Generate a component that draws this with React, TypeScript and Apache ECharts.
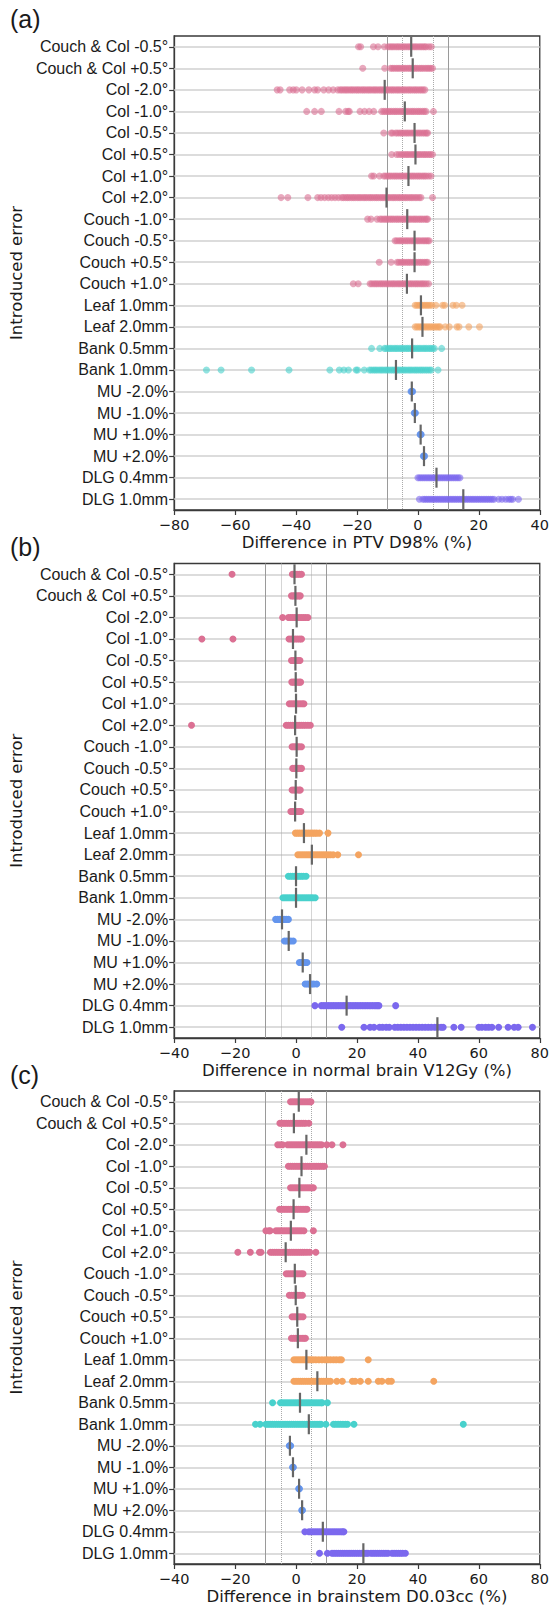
import React, { useEffect, useRef } from 'react';
import * as echarts from 'echarts';

const categories = [
  'Couch & Col -0.5°', 'Couch & Col +0.5°', 'Col -2.0°', 'Col -1.0°', 'Col -0.5°', 'Col +0.5°',
  'Col +1.0°', 'Col +2.0°', 'Couch -1.0°', 'Couch -0.5°', 'Couch +0.5°', 'Couch +1.0°',
  'Leaf 1.0mm', 'Leaf 2.0mm', 'Bank 0.5mm', 'Bank 1.0mm', 'MU -2.0%', 'MU -1.0%', 'MU +1.0%',
  'MU +2.0%', 'DLG 0.4mm', 'DLG 1.0mm',
];
const groupColors = ['#db7093', '#f4a460', '#48d1cc', '#6495ed', '#7b68ee'];
const categoryGroup = [0, 0, 0, 0, 0, 0, 0, 0, 0, 0, 0, 0, 1, 1, 2, 2, 3, 3, 3, 3, 4, 4];

const panelLetters = ['(a)', '(b)', '(c)'];
const xTitles = ['Difference in PTV D98% (%)', 'Difference in normal brain V12Gy (%)', 'Difference in brainstem D0.03cc (%)'];
const yTitle = 'Introduced error';
const xRanges = [[-80, 40], [-40, 80], [-40, 80]];
const xTickStep = 20;
const solidLimits = [-10, 10];
const dottedLimits = [-5, 5];

// Panel (a): PTV D98%
const ptvValues: number[][] = [
  [-19.5, -18.8, -14.6, -13.1, -11.0, -9.8, -9.1, -8.5, -7.9, -7.2, -6.6, -6.0, -5.3, -4.7, -4.1, -3.4, -2.8, -2.2, -1.5, -0.9, -0.3, 0.4, 1.0, 1.6, 2.2, 2.7, 3.6, 4.4],
  [-18.1, -10.9, -9.0, -8.4, -7.8, -7.1, -6.5, -5.9, -5.2, -4.6, -4.0, -3.3, -2.7, -2.1, -1.4, -0.8, -0.2, 0.5, 1.1, 1.7, 2.4, 3.0, 3.6, 4.2, 4.8],
  [-46.2, -45.2, -42.1, -40.9, -39.9, -38.0, -35.8, -33.9, -32.9, -30.9, -29.3, -27.8, -26.3, -25.5, -24.9, -24.2, -23.6, -23.0, -22.3, -21.7, -21.1, -20.4, -19.8, -19.2, -18.5, -17.9, -17.3, -16.6, -16.0, -15.4, -14.7, -14.1, -13.5, -12.8, -12.2, -11.6, -10.9, -10.3, -9.7, -9.0, -8.4, -7.8, -7.1, -6.5, -5.9, -5.2, -4.6, -4.0, -3.3, -2.7, -2.1, -1.4, -0.8, -0.2, 0.5, 1.1, 1.7, 2.3],
  [-36.5, -33.9, -31.7, -25.9, -23.7, -22.9, -22.5, -19.0, -17.5, -16.0, -14.5, -11.9, -11.2, -10.6, -9.9, -9.3, -8.7, -8.0, -7.4, -6.8, -6.1, -5.5, -4.9, -4.2, -3.6, -3.0, -2.3, -1.7, -1.1, -0.4, 0.2, 0.8, 1.5, 2.1, 2.7, 5.1],
  [-11.2, -8.8, -8.3, -7.3, -6.7, -6.0, -5.4, -4.8, -4.1, -3.5, -2.9, -2.2, -1.6, -1.0, -0.3, 0.3, 0.9, 1.6, 2.2, 2.8, 3.2],
  [-8.6, -7.0, -6.2, -5.4, -4.8, -4.1, -3.5, -2.9, -2.2, -1.6, -1.0, -0.3, 0.3, 0.9, 1.6, 2.2, 2.8, 3.5, 4.1, 4.8],
  [-15.2, -14.5, -12.6, -11.2, -10.6, -9.9, -9.3, -8.7, -8.0, -7.4, -6.8, -6.1, -5.5, -4.9, -4.2, -3.6, -3.0, -2.3, -1.7, -1.1, -0.4, 0.2, 0.8, 1.5, 2.1, 2.7, 3.5, 4.3],
  [-44.9, -42.7, -36.1, -32.9, -31.8, -30.6, -29.4, -28.3, -27.2, -26.1, -25.0, -24.4, -23.7, -23.1, -22.5, -21.8, -21.2, -20.6, -19.9, -19.3, -18.7, -18.0, -17.4, -16.8, -16.1, -15.5, -14.9, -14.2, -13.6, -13.0, -12.3, -11.7, -11.1, -10.4, -9.8, -9.2, -8.5, -7.9, -7.3, -6.6, -6.0, -5.4, -4.7, -4.1, -3.5, -2.8, -2.2, -1.6, -0.9, -0.3, 0.4, 1.0, 4.8],
  [-16.5, -15.4, -13.4, -12.4, -11.8, -11.1, -10.5, -9.9, -9.2, -8.6, -8.0, -7.3, -6.7, -6.1, -5.4, -4.8, -4.2, -3.5, -2.9, -2.3, -1.6, -1.0, -0.4, 0.3, 0.9, 1.5, 2.2, 2.8, 3.2],
  [-7.5, -6.9, -6.2, -5.6, -5.0, -4.3, -3.7, -3.1, -2.4, -1.8, -1.2, -0.5, 0.1, 0.7, 1.4, 2.0, 2.6, 3.2, 3.7],
  [-12.7, -8.8, -6.8, -6.2, -5.5, -4.9, -4.3, -3.6, -3.0, -2.4, -1.7, -1.1, -0.5, 0.2, 0.8, 1.4, 2.1, 2.7, 3.2],
  [-21.2, -19.6, -15.7, -15.1, -14.4, -13.8, -13.2, -12.5, -11.9, -11.3, -10.6, -10.0, -9.4, -8.7, -8.1, -7.5, -6.8, -6.2, -5.6, -4.9, -4.3, -3.7, -3.0, -2.4, -1.8, -1.1, -0.5, 0.1, 0.8, 1.4, 2.0, 2.7, 3.5],
  [-0.9, -0.3, 0.3, 0.9, 1.5, 2.1, 2.7, 3.3, 3.9, 4.6, 5.9, 8.1, 8.8, 11.5, 12.6, 14.5],
  [-0.9, -0.3, 0.3, 0.9, 1.5, 2.1, 2.7, 3.3, 3.9, 4.5, 5.1, 5.7, 6.3, 6.9, 7.3, 9.0, 10.3, 12.8, 13.5, 16.7, 20.2],
  [-15.2, -12.5, -11.0, -10.4, -9.7, -9.1, -8.5, -7.8, -7.2, -6.6, -5.9, -5.3, -4.7, -4.0, -3.4, -2.8, -2.1, -1.5, -0.9, -0.2, 0.4, 1.0, 1.7, 2.3, 2.9, 3.6, 4.2, 4.8, 5.4, 7.8],
  [-69.4, -64.6, -54.6, -42.3, -28.9, -25.8, -24.3, -22.8, -20.3, -19.8, -17.6, -15.9, -15.3, -14.6, -14.0, -13.4, -12.7, -12.1, -11.5, -10.8, -10.2, -9.6, -8.9, -8.3, -7.7, -7.0, -6.4, -5.8, -5.1, -4.5, -3.9, -3.2, -2.6, -2.0, -1.3, -0.7, -0.1, 0.6, 1.2, 1.8, 2.5, 3.1, 3.8, 4.4, 6.6],
  [-2.3, -2.1, -2.0, -2.0, -1.9, -1.8, -1.7],
  [-1.2, -1.1, -1.0, -1.0, -0.9, -0.8],
  [0.7, 0.8, 0.9, 0.9, 1.0, 1.1],
  [1.8, 1.9, 2.0, 2.0, 2.1, 2.2],
  [0.0, 0.6, 1.2, 1.8, 2.4, 3.0, 3.6, 4.2, 4.8, 5.4, 6.0, 6.6, 7.2, 7.8, 8.4, 9.0, 9.6, 10.2, 10.8, 11.4, 12.0, 12.6, 13.2, 13.8],
  [0.5, 1.6, 2.2, 2.8, 3.4, 4.0, 4.6, 5.2, 5.8, 6.4, 7.0, 7.6, 8.2, 8.8, 9.4, 10.0, 10.6, 11.2, 11.8, 12.4, 13.0, 13.6, 14.2, 14.8, 15.4, 16.0, 16.6, 17.2, 17.8, 18.4, 19.0, 19.6, 20.2, 20.8, 21.4, 22.0, 22.6, 23.2, 23.8, 24.4, 25.0, 26.5, 27.6, 28.8, 29.8, 30.5, 31.1, 33.0],
];
const ptvMedians = [-2.2, -1.7, -10.9, -4.3, -1.1, -0.8, -3.1, -10.3, -3.5, -1.1, -1.1, -3.6, 1.0, 1.5, -1.9, -7.2, -2.0, -1.0, 0.9, 2.0, 6.1, 14.9];

// Panel (b): normal brain V12Gy
const brainValues: number[][] = [
  [-21.0, -1.2, -0.6, 0.0, 0.6, 1.2, 1.8],
  [-1.5, -0.9, -0.3, 0.3, 0.9, 1.4],
  [-4.4, -2.5, -1.8, -1.1, -0.4, 0.3, 1.0, 1.7, 2.4, 3.1, 3.9],
  [-30.9, -20.7, -2.3, -1.6, -0.9, -0.2, 0.5, 1.2, 1.8],
  [-1.5, -0.9, -0.3, 0.3, 0.9, 1.3],
  [-1.4, -0.8, -0.2, 0.4, 1.0, 1.5],
  [-2.2, -1.5, -0.8, -0.1, 0.6, 1.3, 2.0, 2.6],
  [-34.3, -3.2, -2.5, -1.8, -1.1, -0.4, 0.3, 1.0, 1.7, 2.4, 3.1, 3.9, 4.7],
  [-1.3, -0.7, -0.1, 0.5, 1.1, 1.8],
  [-1.1, -0.5, 0.1, 0.7, 1.3, 1.8],
  [-1.3, -0.7, -0.1, 0.5, 1.1, 1.4],
  [-1.7, -1.1, -0.5, 0.1, 0.7, 1.2, 1.6],
  [-0.2, 0.5, 1.2, 1.9, 2.6, 3.3, 4.0, 4.7, 5.4, 6.1, 6.8, 7.7, 10.5],
  [0.6, 1.3, 2.0, 2.7, 3.4, 4.1, 4.8, 5.5, 6.2, 6.9, 7.6, 8.3, 9.0, 9.7, 10.5, 11.3, 12.2, 13.7, 20.5],
  [-2.5, -1.8, -1.1, -0.4, 0.3, 1.0, 1.7, 2.4, 3.3],
  [-4.3, -3.6, -2.9, -2.2, -1.5, -0.8, -0.1, 0.6, 1.3, 2.0, 2.7, 3.4, 4.1, 4.8, 5.5, 6.3],
  [-6.7, -6.0, -5.3, -4.6, -3.9, -3.2, -2.5],
  [-3.8, -3.1, -2.4, -1.7, -0.9],
  [1.1, 1.7, 2.3, 2.9, 3.6],
  [3.0, 3.7, 4.4, 5.1, 5.8, 6.8],
  [6.2, 8.3, 9.1, 9.9, 10.7, 11.5, 12.3, 13.1, 13.9, 14.7, 15.5, 16.3, 17.1, 17.9, 18.7, 19.5, 20.3, 21.1, 21.9, 22.7, 23.5, 24.3, 25.1, 25.9, 26.6, 27.2, 32.7],
  [15.0, 22.3, 24.3, 25.6, 27.4, 28.4, 29.6, 30.6, 32.4, 33.4, 34.4, 35.4, 36.4, 37.4, 38.4, 39.4, 40.4, 41.4, 42.4, 43.4, 44.4, 45.5, 46.5, 47.6, 48.3, 51.8, 54.2, 60.0, 61.0, 62.2, 63.2, 64.3, 66.5, 69.6, 71.6, 72.9, 77.6],
];
const brainMedians = [-0.5, -0.2, 0.2, -1.0, -0.2, -0.1, 0.0, -0.3, 0.2, 0.1, -0.1, -0.3, 2.6, 5.2, 0.0, 0.0, -4.6, -2.4, 2.2, 4.6, 16.6, 46.4];

// Panel (c): brainstem D0.03cc
const brainstemValues: number[][] = [
  [-1.8, -1.1, -0.4, 0.3, 1.0, 1.7, 2.4, 3.1, 3.8, 4.5, 4.9],
  [-5.3, -4.6, -3.9, -3.2, -2.5, -1.8, -1.1, -0.4, 0.3, 1.0, 1.7, 2.4, 3.1, 4.2],
  [-6.0, -5.2, -4.4, -2.8, -2.1, -1.4, -0.7, 0.0, 0.7, 1.4, 2.1, 2.8, 3.5, 4.2, 4.9, 5.6, 6.3, 7.0, 7.7, 8.4, 10.1, 11.8, 15.4],
  [-2.5, -1.8, -1.1, -0.4, 0.3, 1.0, 1.7, 2.4, 3.1, 3.8, 4.5, 5.2, 5.9, 6.6, 7.3, 8.0, 8.7, 9.3],
  [-1.8, -1.1, -0.4, 0.3, 1.0, 1.7, 2.4, 3.1, 3.8, 4.5, 5.2, 5.7],
  [-5.4, -4.7, -4.0, -3.3, -2.6, -1.9, -1.2, -0.5, 0.2, 0.9, 1.6, 2.3, 3.0, 3.6],
  [-9.9, -8.9, -8.5, -6.6, -5.9, -5.2, -4.5, -3.8, -3.1, -2.4, -1.7, -1.0, -0.3, 0.4, 1.1, 1.8, 2.6, 5.7],
  [-19.1, -15.0, -12.0, -11.5, -8.4, -7.7, -7.0, -6.3, -5.6, -4.9, -4.2, -3.5, -2.8, -2.1, -1.4, -0.7, 0.0, 0.7, 1.4, 2.1, 2.8, 3.6, 4.5, 6.5],
  [-3.2, -2.5, -1.8, -1.1, -0.4, 0.3, 1.0, 1.7, 2.3],
  [-2.2, -1.5, -0.8, -0.1, 0.6, 1.3, 2.1],
  [-1.3, -0.6, 0.1, 0.8, 1.5, 2.3],
  [-1.5, -0.8, -0.1, 0.6, 1.3, 2.0, 2.6, 3.1],
  [-0.7, 0.0, 0.7, 1.4, 2.1, 2.8, 3.5, 4.2, 4.9, 5.6, 6.5, 7.5, 8.5, 9.5, 10.4, 11.3, 12.3, 13.2, 14.2, 14.9, 23.7],
  [-0.7, 0.0, 0.7, 1.4, 2.1, 2.8, 3.5, 4.2, 4.9, 5.6, 6.3, 7.0, 7.7, 8.4, 9.1, 9.8, 10.5, 11.3, 13.4, 15.2, 18.5, 19.4, 21.1, 23.7, 27.0, 28.2, 30.3, 31.3, 45.2],
  [-7.7, -5.1, -4.4, -3.7, -3.0, -2.3, -1.6, -0.9, -0.2, 0.5, 1.2, 1.9, 2.6, 3.3, 4.0, 4.7, 5.4, 6.1, 6.8, 7.5, 8.2, 8.6, 10.3],
  [-13.3, -11.8, -9.9, -9.2, -8.5, -7.8, -7.1, -6.4, -5.7, -5.0, -4.3, -3.6, -2.9, -2.2, -1.5, -0.8, -0.1, 0.6, 1.3, 2.0, 2.7, 3.4, 4.1, 4.8, 5.5, 6.2, 6.9, 7.6, 8.2, 9.8, 12.3, 13.0, 13.8, 14.6, 15.4, 16.2, 16.9, 19.0, 54.9],
  [-2.2, -2.0, -1.9, -1.8],
  [-1.1, -1.0, -0.9],
  [0.9, 1.0, 1.1],
  [1.9, 2.0, 2.1],
  [2.9, 4.2, 4.9, 5.6, 6.3, 7.0, 7.7, 8.4, 9.1, 9.8, 10.5, 11.2, 11.9, 12.6, 13.3, 14.0, 14.7, 15.3, 15.7],
  [7.7, 10.3, 11.8, 12.5, 13.2, 13.9, 14.6, 15.3, 16.0, 16.7, 17.4, 18.1, 18.8, 19.5, 20.2, 20.9, 21.6, 22.3, 23.0, 23.6, 24.6, 25.3, 26.0, 26.7, 27.4, 28.1, 28.8, 29.5, 30.2, 31.5, 32.2, 32.9, 33.6, 34.3, 35.0, 35.9],
];
const brainstemMedians = [0.9, -0.7, 3.4, 1.8, 1.1, -0.8, -1.7, -3.4, -0.4, -0.1, 0.4, 0.6, 3.4, 7.0, 1.3, 4.2, -2.0, -1.0, 1.0, 2.0, 8.8, 22.1];

const allValues = [ptvValues, brainValues, brainstemValues];
const allMedians = [ptvMedians, brainMedians, brainstemMedians];

const layout = [
  { left: 150.5, top: 36, width: 390, height: 474, letterY: 20, pointOpacity: 0.6 },
  { left: 152, top: 563.5, width: 390, height: 474.5, letterY: 548, pointOpacity: 1 },
  { left: 152, top: 1091, width: 390, height: 475, letterY: 1076, pointOpacity: 1 },
];

const FONT_CAT = "'Liberation Sans', Arial, sans-serif";
const FONT_AX = "'DejaVu Sans', sans-serif";
const TXT = '#1a1a1a';
const FRAME = '#3a3a3a';

function minusFmt(v: number) {
  return v < 0 ? '\u2212' + Math.abs(v) : String(v);
}

function buildOption() {
  const grid: any[] = [];
  const xAxis: any[] = [];
  const yAxis: any[] = [];
  const series: any[] = [];
  const graphic: any[] = [];

  layout.forEach((l, p) => {
    grid.push({
      left: l.left, top: l.top, width: l.width, height: l.height,
      show: true, borderColor: FRAME, borderWidth: 1.3, backgroundColor: 'transparent', containLabel: false,
    });
    xAxis.push({
      type: 'value', gridIndex: p, min: xRanges[p][0], max: xRanges[p][1], interval: xTickStep,
      splitLine: { show: false },
      axisLine: { show: true, onZero: false, lineStyle: { color: FRAME, width: 1.3 } },
      axisTick: { show: true, length: 5, lineStyle: { color: FRAME, width: 1.2 } },
      axisLabel: { formatter: minusFmt, fontFamily: FONT_AX, fontSize: 14.5, color: TXT, margin: 7 },
      name: xTitles[p], nameLocation: 'middle', nameGap: 24,
      nameTextStyle: { fontFamily: FONT_AX, fontSize: 16.5, color: TXT },
    });
    yAxis.push({
      type: 'category', gridIndex: p, data: categories, inverse: true,
      axisLine: { show: true, onZero: false, lineStyle: { color: FRAME, width: 1.3 } },
      axisTick: { show: true, alignWithLabel: true, interval: 0, length: 5, lineStyle: { color: FRAME, width: 1.2 } },
      axisLabel: { interval: 0, fontFamily: FONT_CAT, fontSize: 16, color: TXT, margin: 6 },
      splitLine: { show: false },
      name: yTitle, nameLocation: 'middle', nameGap: 115, nameRotate: 90,
      nameTextStyle: { fontFamily: FONT_AX, fontSize: 16.5, color: TXT },
    });

    const guideData: any[] = categories.map((_, i) => ({
      yAxis: i, lineStyle: { color: '#d0d0d0', width: 1.5, type: 'solid' },
    }));
    solidLimits.forEach((v) => guideData.push({ xAxis: v, lineStyle: { color: '#9a9a9a', width: 1, type: 'solid' } }));
    dottedLimits.forEach((v) => guideData.push({ xAxis: v, lineStyle: { color: '#aaaaaa', width: 1, type: 'dotted' } }));
    series.push({
      type: 'scatter', xAxisIndex: p, yAxisIndex: p, data: [[0, 0]], symbolSize: 0, silent: true, z: 1,
      markLine: { z: 1, silent: true, animation: false, symbol: ['none', 'none'], label: { show: false }, data: guideData },
    });

    groupColors.forEach((color, g) => {
      const data: number[][] = [];
      allValues[p].forEach((vals, i) => {
        if (categoryGroup[i] !== g) return;
        vals.forEach((v) => data.push([v, i]));
      });
      series.push({
        type: 'scatter', xAxisIndex: p, yAxisIndex: p, data, symbol: 'circle', symbolSize: 7, silent: true, z: 2,
        itemStyle: { color, opacity: l.pointOpacity },
      });
    });

    series.push({
      type: 'scatter', xAxisIndex: p, yAxisIndex: p, silent: true, z: 3,
      data: allMedians[p].map((m, i) => [m, i]),
      symbol: 'rect', symbolSize: [2.2, 20],
      itemStyle: { color: '#666666', opacity: 1 },
    });

    graphic.push({
      type: 'text', left: 10, top: l.letterY - 14,
      style: { text: panelLetters[p], font: `25px ${FONT_CAT}`, fill: TXT },
    });
  });

  return { animation: false, backgroundColor: '#ffffff', grid, xAxis, yAxis, series, graphic };
}

export default function App() {
  const ref = useRef<HTMLDivElement>(null);
  useEffect(() => {
    if (!ref.current) return;
    const chart = echarts.init(ref.current, undefined, { renderer: 'svg' });
    chart.setOption(buildOption() as any);
    return () => chart.dispose();
  }, []);
  return (
    <div
      ref={ref}
      style={{ position: 'absolute', left: 0, top: 0, width: 552, height: 1606, background: '#fff' }}
    />
  );
}
